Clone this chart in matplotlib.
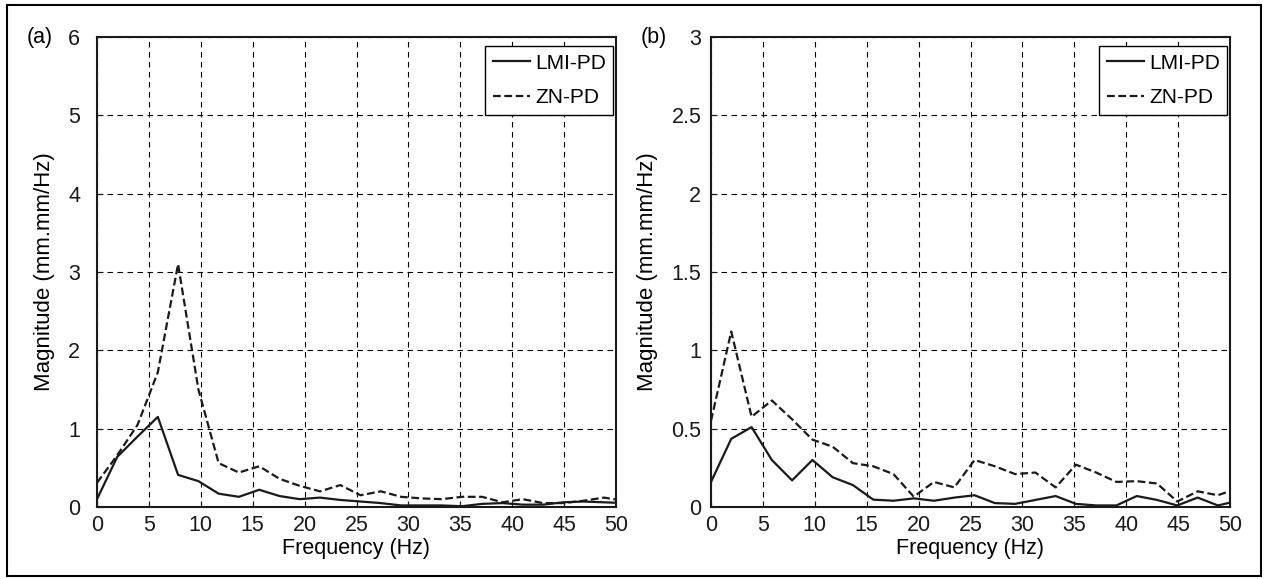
import matplotlib
matplotlib.use("Agg")
import matplotlib.pyplot as plt
from matplotlib.patches import Rectangle
from matplotlib.ticker import FormatStrFormatter

plt.rcParams["font.family"] = ["Liberation Sans", "DejaVu Sans"]
plt.rcParams["font.size"] = 15.5

# frequency bins (Hz)
freq = [0.00, 1.95, 3.91, 5.86, 7.81, 9.77, 11.72, 13.67, 15.63, 17.58,
        19.53, 21.48, 23.44, 25.39, 27.34, 29.30, 31.25, 33.20, 35.16,
        37.11, 39.06, 41.02, 42.97, 44.92, 46.88, 48.83, 50.78]

# panel (a)
lmi_a = [0.10, 0.64, 0.90, 1.15, 0.41, 0.33, 0.17, 0.13, 0.22, 0.14,
         0.10, 0.12, 0.09, 0.07, 0.05, 0.02, 0.02, 0.02, 0.01,
         0.04, 0.05, 0.03, 0.03, 0.06, 0.07, 0.06, 0.05]
zn_a = [0.31, 0.66, 1.05, 1.72, 3.10, 1.50, 0.56, 0.44, 0.52, 0.36,
        0.27, 0.20, 0.28, 0.15, 0.20, 0.13, 0.11, 0.10, 0.13,
        0.13, 0.06, 0.10, 0.05, 0.05, 0.08, 0.12, 0.08]

# panel (b)
lmi_b = [0.16, 0.435, 0.51, 0.30, 0.17, 0.30, 0.19, 0.14, 0.047, 0.04,
         0.055, 0.04, 0.06, 0.075, 0.025, 0.02, 0.045, 0.07, 0.02,
         0.01, 0.01, 0.07, 0.045, 0.01, 0.06, 0.01, 0.04]
zn_b = [0.55, 1.12, 0.576, 0.68, 0.56, 0.43, 0.385, 0.28, 0.26, 0.21,
        0.066, 0.16, 0.125, 0.30, 0.26, 0.21, 0.22, 0.125, 0.27,
        0.22, 0.16, 0.165, 0.15, 0.035, 0.10, 0.075, 0.12]

xticks = [0, 5, 10, 15, 20, 25, 30, 35, 40, 45, 50]
yticks_a = [0, 1, 2, 3, 4, 5, 6]
yticks_b = [0, 0.5, 1, 1.5, 2, 2.5, 3]

W, H = 1266, 579
fig = plt.figure(figsize=(W / 100, H / 100), dpi=100)

# outer frame
fig.patches.append(Rectangle((7 / W, 1 - 576 / H), 1254 / W, 571 / H,
                             transform=fig.transFigure, fill=False,
                             edgecolor="black", linewidth=1.5))

ax_a = fig.add_axes([97 / W, 1 - 507 / H, 519 / W, 470 / H])
ax_b = fig.add_axes([711 / W, 1 - 507 / H, 519 / W, 470 / H])

panels = [
    (ax_a, lmi_a, zn_a, yticks_a, "(a)", 12),
    (ax_b, lmi_b, zn_b, yticks_b, "(b)", 7),
]

for ax, lmi, zn, yt, tag, ypad in panels:
    ax.plot(freq, lmi, color="#1a1a1a", linewidth=1.6, label="LMI-PD")
    ax.plot(freq, zn, color="#1a1a1a", linewidth=1.6, dashes=(3.5, 1.6),
            label="ZN-PD")
    ax.set_xlim(0, 50)
    ax.set_ylim(yt[0], yt[-1])
    ax.set_xticks(xticks)
    ax.set_yticks(yt)
    ax.yaxis.set_major_formatter(FormatStrFormatter("%g"))
    ax.grid(True, color="black", linewidth=0.8, linestyle=(0, (5, 4)))
    ax.tick_params(direction="in", length=4, width=0.8, colors="#1a1a1a",
                   labelsize=15.5)
    ax.tick_params(axis="x", pad=5.5)
    ax.tick_params(axis="y", pad=ypad)
    for s in ax.spines.values():
        s.set_linewidth(1.5)
        s.set_color("#1a1a1a")
    ax.set_xlabel("Frequency (Hz)", fontsize=15.5, labelpad=2)
    ax.set_ylabel("Magnitude (mm.mm/Hz)", fontsize=16, labelpad=9.5)
    ax.text(-57 / 519, 1.0, tag, transform=ax.transAxes, fontsize=15.5,
            ha="center", va="center")
    leg = ax.legend(loc="upper right", bbox_to_anchor=(0.995, 0.98),
                    fancybox=False, framealpha=1, edgecolor="black",
                    handlelength=1.8, handletextpad=0.25, labelspacing=0.75,
                    borderaxespad=0, borderpad=0.35, fontsize=15)
    leg.get_frame().set_linewidth(1.0)

fig.savefig("out.png", dpi=100)
plt.close(fig)
